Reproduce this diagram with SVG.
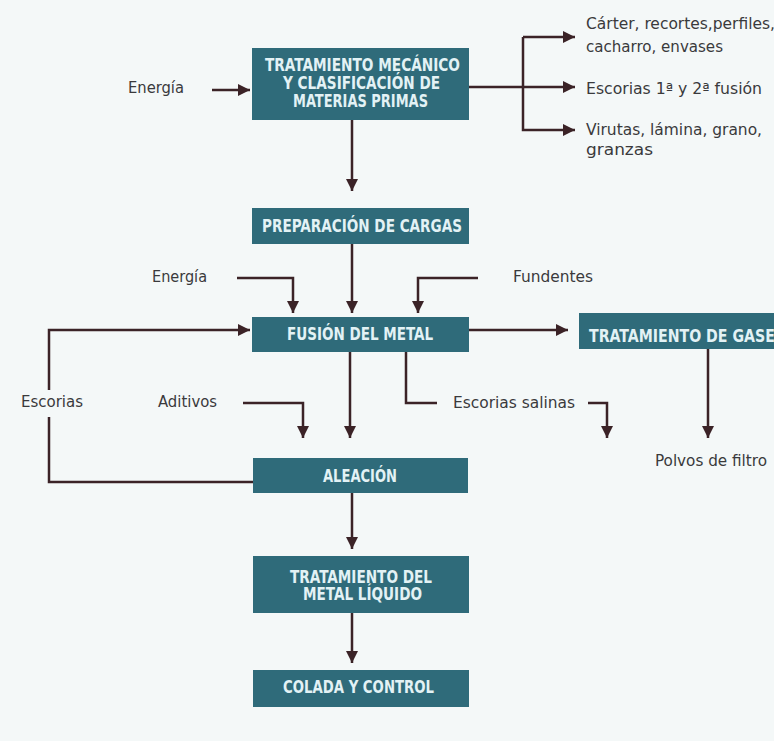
<svg xmlns="http://www.w3.org/2000/svg" width="774" height="741" viewBox="0 0 774 741">
<defs>
<style>
.box{fill:#2f6b7a}
.bt{fill:#e3f2f5;font-family:"Liberation Sans Narrow","DejaVu Sans Condensed","Liberation Sans",sans-serif;font-size:17px;font-weight:bold;text-anchor:start}
.lb{fill:#3a3a3c;font-family:"Liberation Sans Narrow","DejaVu Sans Condensed","Liberation Sans",sans-serif;font-size:16px}
.ln{fill:none;stroke:#3b2327;stroke-width:2.5;marker-end:url(#ah)}
.lp{fill:none;stroke:#3b2327;stroke-width:2.5}
</style>
<marker id="ah" viewBox="0 0 10 10" refX="10" refY="5" markerWidth="12" markerHeight="12" markerUnits="userSpaceOnUse" orient="auto">
<path d="M0,0 L10,5 L0,10 z" fill="#3b2327"/>
</marker>
</defs>
<rect width="774" height="741" fill="#f4f8f8"/>

<g id="connectors">
<path class="ln" d="M212,90 H250"/>
<path class="lp" d="M469,87 H523"/>
<path class="ln" d="M523,87 H575"/>
<path class="ln" d="M523,37 V130 H575"/>
<path class="ln" d="M523,37 H575"/>
<path class="ln" d="M352,120 V191"/>
<path class="ln" d="M237,278 H293 V313"/>
<path class="ln" d="M352,244 V313"/>
<path class="ln" d="M478,278 H418 V313"/>
<path class="ln" d="M469,330 H568"/>
<path class="ln" d="M708,349 V438"/>
<path class="ln" d="M49,390 V330 H250"/>
<path class="lp" d="M49,417 V482 H253"/>
<path class="ln" d="M243,403 H303 V438"/>
<path class="ln" d="M350,352 V438"/>
<path class="lp" d="M406,352 V403 H437"/>
<path class="ln" d="M588,403 H607 V438"/>
<path class="ln" d="M352,493 V549"/>
<path class="ln" d="M352,613 V663"/>
</g>

<g id="n-tratamiento-mecanico">
<rect class="box" x="252" y="48" width="217" height="72"/>
<text class="bt" x="265" y="71" textLength="195" lengthAdjust="spacingAndGlyphs">TRATAMIENTO MECÁNICO</text>
<text class="bt" x="283" y="89" textLength="157" lengthAdjust="spacingAndGlyphs">Y CLASIFICACIÓN DE</text>
<text class="bt" x="293" y="107" textLength="135" lengthAdjust="spacingAndGlyphs">MATERIAS PRIMAS</text>
</g>
<g id="n-preparacion">
<rect class="box" x="252" y="208" width="217" height="36"/>
<text class="bt" x="262" y="232" textLength="200" lengthAdjust="spacingAndGlyphs">PREPARACIÓN DE CARGAS</text>
</g>
<g id="n-fusion">
<rect class="box" x="252" y="317" width="217" height="35"/>
<text class="bt" x="287" y="340" textLength="146" lengthAdjust="spacingAndGlyphs">FUSIÓN DEL METAL</text>
</g>
<g id="n-gases">
<rect class="box" x="579" y="313" width="220" height="36"/>
<text class="bt" x="589" y="342" textLength="196" lengthAdjust="spacingAndGlyphs">TRATAMIENTO DE GASES</text>
</g>
<g id="n-aleacion">
<rect class="box" x="253" y="458" width="215" height="35"/>
<text class="bt" x="323" y="482" textLength="74" lengthAdjust="spacingAndGlyphs">ALEACIÓN</text>
</g>
<g id="n-tratamiento-liquido">
<rect class="box" x="253" y="556" width="216" height="57"/>
<text class="bt" x="290" y="583" textLength="142" lengthAdjust="spacingAndGlyphs">TRATAMIENTO DEL</text>
<text class="bt" x="303" y="600" textLength="119" lengthAdjust="spacingAndGlyphs">METAL LÍQUIDO</text>
</g>
<g id="n-colada">
<rect class="box" x="253" y="670" width="216" height="37"/>
<text class="bt" x="283" y="693" textLength="151" lengthAdjust="spacingAndGlyphs">COLADA Y CONTROL</text>
</g>

<g id="labels">
<text class="lb" x="128" y="93" textLength="56" lengthAdjust="spacingAndGlyphs">Energía</text>
<text class="lb" x="586" y="29" textLength="189" lengthAdjust="spacingAndGlyphs">Cárter, recortes,perfiles,</text>
<text class="lb" x="586" y="52" textLength="137" lengthAdjust="spacingAndGlyphs">cacharro, envases</text>
<text class="lb" x="586" y="94" textLength="176" lengthAdjust="spacingAndGlyphs">Escorias 1ª y 2ª fusión</text>
<text class="lb" x="586" y="135" textLength="176" lengthAdjust="spacingAndGlyphs">Virutas, lámina, grano,</text>
<text class="lb" x="586" y="155" textLength="67" lengthAdjust="spacingAndGlyphs">granzas</text>
<text class="lb" x="152" y="282" textLength="55" lengthAdjust="spacingAndGlyphs">Energía</text>
<text class="lb" x="513" y="282" textLength="80" lengthAdjust="spacingAndGlyphs">Fundentes</text>
<text class="lb" x="21" y="407" textLength="62" lengthAdjust="spacingAndGlyphs">Escorias</text>
<text class="lb" x="158" y="407" textLength="59" lengthAdjust="spacingAndGlyphs">Aditivos</text>
<text class="lb" x="453" y="408" textLength="122" lengthAdjust="spacingAndGlyphs">Escorias salinas</text>
<text class="lb" x="655" y="466" textLength="112" lengthAdjust="spacingAndGlyphs">Polvos de filtro</text>
</g>
</svg>
